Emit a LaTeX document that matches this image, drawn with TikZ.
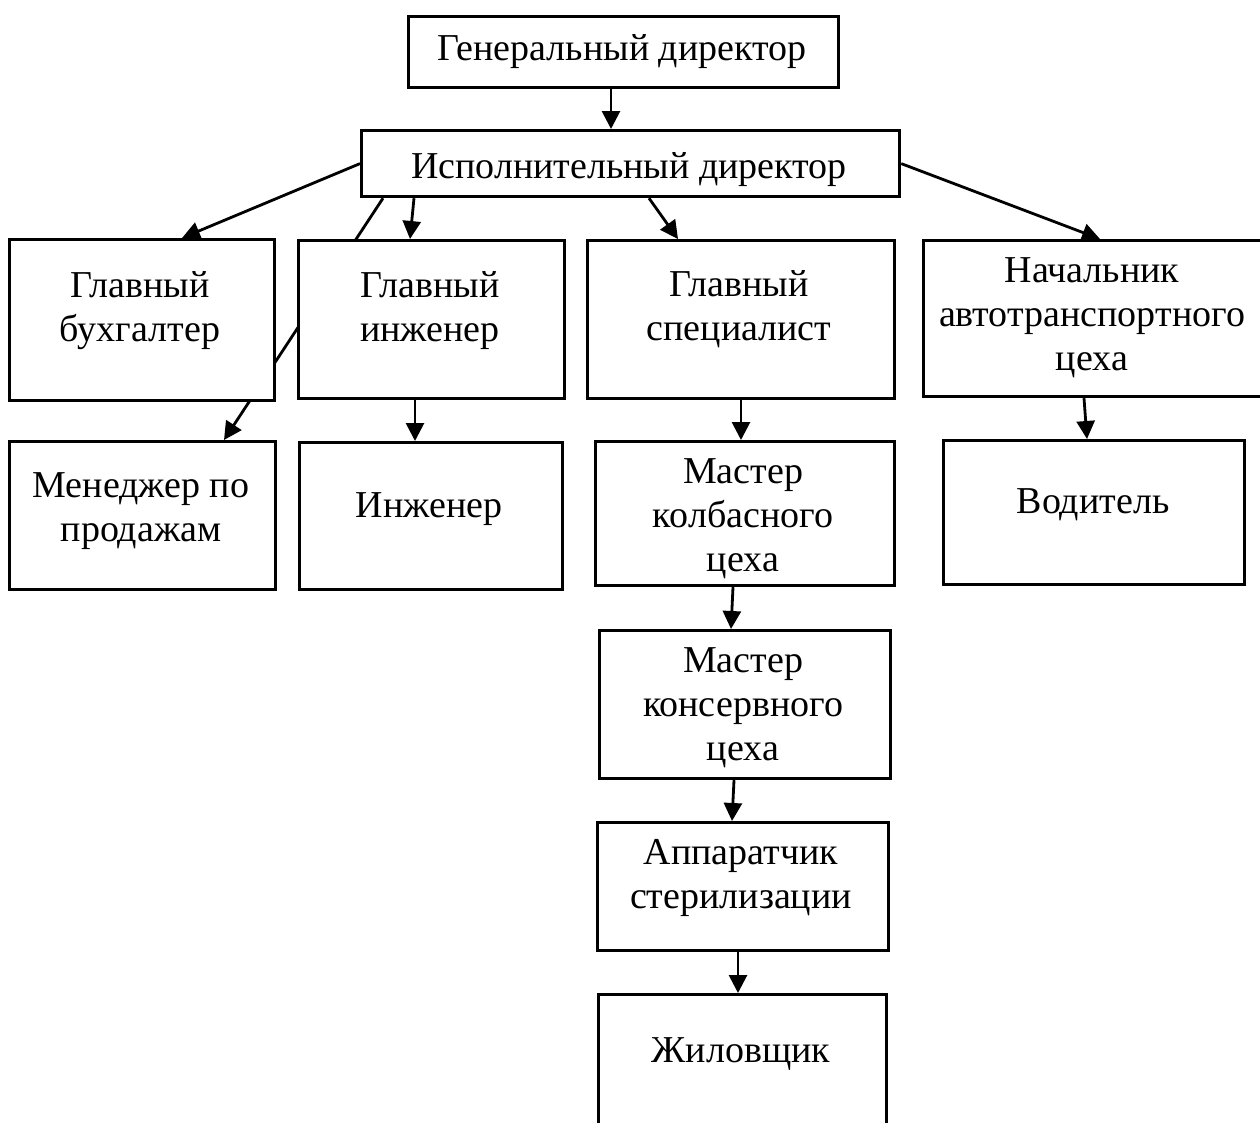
\documentclass[tikz,border=0pt]{standalone}
\usepackage{fontspec}
\setmainfont{Liberation Serif}
\usetikzlibrary{arrows.meta,backgrounds}
\tikzset{
  box/.style={draw=black, line width=3.2pt, fill=white, rectangle, inner sep=0pt, anchor=north west},
  lbl/.style={anchor=base, align=center, inner sep=0pt, font=\fontsize{38}{43.7}\selectfont},
  arr/.style={draw=black, line width=2.8pt, -{Triangle[length=18pt,width=18pt]}}
}
\newcommand{\bx}[5]{\node[box, minimum width={#4-#2}, minimum height={#5-#3}] (#1) at (#2,#3) {};}
\begin{document}
\begin{tikzpicture}[x=1pt,y=-1pt]
\useasboundingbox (0,0) rectangle (1260,1122);
\begin{scope}
\clip (0,0) rectangle (1260,1122);
% boxes
\bx{gen}{407}{15}{837}{86}
\bx{isp}{360}{129}{898}{195}
\bx{buh}{8}{238}{273}{399}
\bx{ginzh}{297}{239}{563}{397}
\bx{gspec}{586}{239}{893}{397}
\bx{nach}{922}{239}{1280}{395}
\bx{men}{8}{440}{274}{588}
\bx{inzh}{298}{441}{561}{588}
\bx{kolb}{594}{440}{893}{584}
\bx{vod}{942}{439}{1243}{583}
\bx{kons}{598}{629}{889}{777}
\bx{app}{596}{821}{887}{949}
\bx{zhil}{597}{993}{885}{1150}
% texts
\node[lbl] (tgen) at (622,60) {Генеральный директор};
\node[lbl] (tisp) at (629,178) {Исполнительный директор};
\node[lbl] (tbuh) at (140,341) {Главный\\бухгалтер};
\node[lbl] (tginzh) at (430,341) {Главный\\инженер};
\node[lbl] (tgspec) at (739,340) {Главный\\специалист};
\node[lbl] (tnach) at (1092,370) {Начальник\\автотранспортного\\цеха};
\node[lbl] (tmen) at (141,541) {Менеджер по\\продажам};
\node[lbl] (tinzh) at (429,517) {Инженер};
\node[lbl] (tkolb) at (743,571) {Мастер\\колбасного\\цеха};
\node[lbl] (tvod) at (1093,513) {Водитель};
\node[lbl] (tkons) at (743,760) {Мастер\\консервного\\цеха};
\node[lbl] (tapp) at (741,908) {Аппаратчик\\стерилизации};
\node[lbl] (tzhil) at (741,1062) {Жиловщик};
\end{scope}
% connectors
\begin{pgfonlayer}{background}
\draw[arr] ([xshift=204pt]gen.south west) -- ([xshift=251pt]isp.north west);
\draw[arr] (isp.west) -- ([xshift=174pt]buh.north west);
\draw[arr] ([xshift=23pt]isp.south west) -- ([xshift=216pt]men.north west);
\draw[arr] ([xshift=54pt]isp.south west) -- ([xshift=113pt]ginzh.north west);
\draw[arr] ([xshift=289pt]isp.south west) -- ([xshift=92pt]gspec.north west);
\draw[arr] (isp.east) -- ([xshift=178pt]nach.north west);
\draw[arr] ([xshift=118pt]ginzh.south west) -- ([xshift=117pt]inzh.north west);
\draw[arr] ([xshift=155pt]gspec.south west) -- ([xshift=147pt]kolb.north west);
\draw[arr] ([xshift=162pt]nach.south west) -- ([xshift=145pt]vod.north west);
\draw[arr] ([xshift=139pt]kolb.south west) -- ([xshift=133pt]kons.north west);
\draw[arr] ([xshift=136pt]kons.south west) -- ([xshift=136pt]app.north west);
\draw[arr] ([xshift=142pt]app.south west) -- ([xshift=141pt]zhil.north west);
\end{pgfonlayer}
\end{tikzpicture}
\end{document}
